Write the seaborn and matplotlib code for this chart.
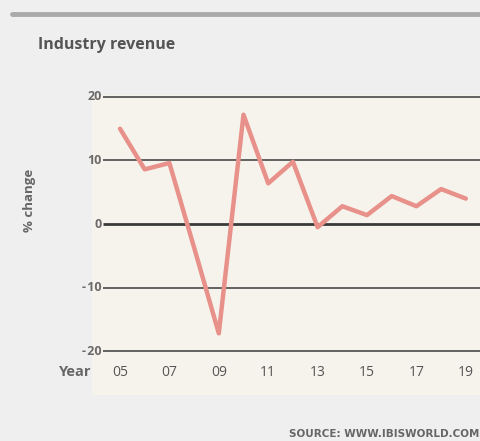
import matplotlib
matplotlib.use("Agg")
import matplotlib.pyplot as plt
import seaborn as sns
import pandas as pd

years = [2005, 2006, 2007, 2008, 2009, 2010, 2011, 2012, 2013, 2014, 2015, 2016, 2017, 2018, 2019]
pct_change = [15.0, 8.6, 9.6, -3.7, -17.2, 17.2, 6.4, 9.8, -0.5, 2.8, 1.4, 4.4, 2.8, 5.5, 4.0]
y_ticks = [20, 10, 0, -10, -20]
y_tick_labels = ["20", "10", "0", "-\u200a10", "-\u200a20"]
x_ticks = [2005, 2007, 2009, 2011, 2013, 2015, 2017, 2019]
x_tick_labels = ["05", "07", "09", "11", "13", "15", "17", "19"]

sns.set_theme(style="white")
plt.rcParams["font.family"] = ["Open Sans", "DejaVu Sans"]

W, H = 481, 441
fig = plt.figure(figsize=(W / 100, H / 100), dpi=100)
fig.patch.set_facecolor("#efefef")

# axes area: x 92..481 px, y 95..395 px (from top)
ax = fig.add_axes([92 / W, 1 - 395 / H, (481 - 92) / W, (395 - 95) / H])
ax.set_facecolor("#f6f3ec")
for s in ax.spines.values():
    s.set_visible(False)

x0 = 2005 - 28 / 24.7
x1 = 2005 + 389 / 24.7 - 28 / 24.7
ax.set_xlim(x0, x1)
ax.set_ylim(-26.9, 20.3)
ax.set_xticks([])
ax.set_yticks([])

grid_start = 2005 - 17 / 24.7
for v, lab in zip(y_ticks, y_tick_labels):
    lw = 2.0 if v == 0 else 1.1
    ax.hlines(v, grid_start, x1, color="#3a3a3a", lw=lw, zorder=1)
    ax.text(grid_start - 0.05, v, lab, ha="right", va="center",
            fontsize=9, color="#6a6a6a", fontweight="bold")

df = pd.DataFrame({"year": years, "pct": pct_change})
sns.lineplot(data=df, x="year", y="pct", ax=ax, color="#e8918a", lw=3.2, zorder=3)
ax.set_xlabel("")
ax.set_ylabel("")

for xt, lab in zip(x_ticks, x_tick_labels):
    ax.text(xt, -23.3, lab, ha="center", va="center", fontsize=10, color="#555555")

fig.text(91 / W, 1 - 372 / H, "Year", ha="right", va="center", fontsize=10.5,
         fontweight="bold", color="#666666")
fig.text(38 / W, 1 - 45 / H, "Industry revenue", ha="left", va="center", fontsize=11.5,
         fontweight="bold", color="#555555")
fig.text(30 / W, 1 - 200 / H, "% change", ha="center", va="center", rotation=90,
         fontsize=9.5, fontweight="bold", color="#666666")
fig.text(479 / W, 1 - 434 / H, "SOURCE: WWW.IBISWORLD.COM", ha="right", va="center",
         fontsize=7.5, fontweight="bold", color="#666666",
         family=["Liberation Sans Narrow", "DejaVu Sans"])

# top grey band
fig.add_artist(plt.Line2D([12 / W, 1], [1 - 14 / H, 1 - 14 / H], color="#aaaaaa", lw=3.5))

fig.savefig("out.png", dpi=100, facecolor=fig.get_facecolor())
